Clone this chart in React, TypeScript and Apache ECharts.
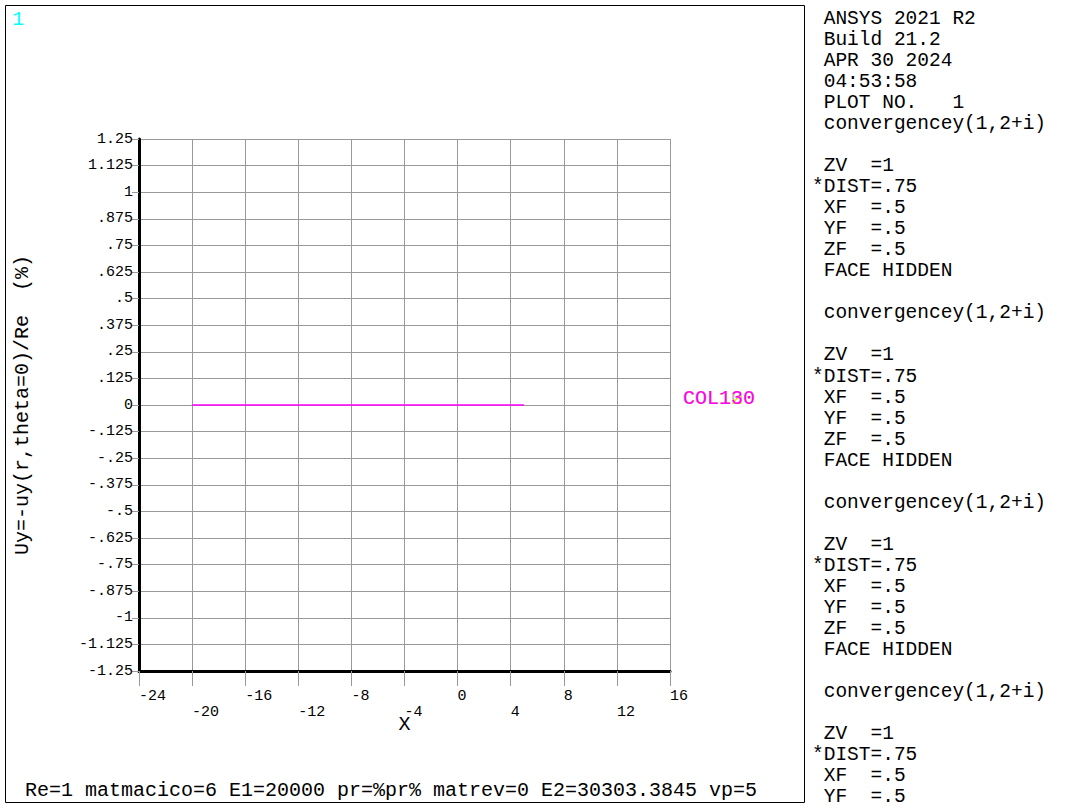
import React, { useEffect, useRef } from "react";
import * as echarts from "echarts";

// ---- data ----
const xValues = [-20, 5];
const yValues = [0, 0];
const xMin = -24, xMax = 16, xStep = 4;
const yMin = -1.25, yMax = 1.25, yStep = 0.125;
const legendLabels = ["COL100", "COL120", "COL130"];
const legendColors = ["#b4b4b4", "#e6e600", "#ff00ff"];
const headerLines = ["ANSYS 2021 R2", "Build 21.2", "APR 30 2024", "04:53:58", "PLOT NO.   1"];
const blockLines = ["convergencey(1,2+i)", "", " ZV  =1", "*DIST=.75", " XF  =.5", " YF  =.5", " ZF  =.5", " FACE HIDDEN", ""];
const footer = "Re=1 matmacico=6 E1=20000 pr=%pr% matrev=0 E2=30303.3845 vp=5";
const yName = "Uy=-uy(r,theta=0)/Re  (%)";
const xName = "X";

const FONT = "'Liberation Mono', 'DejaVu Sans Mono', monospace";

function fmtY(v: number): string {
  if (Math.abs(v) < 1e-9) return "0";
  let s = String(Math.round(v * 1000) / 1000);
  s = s.replace(/^(-?)0\./, "$1.");
  return s;
}

export default function App() {
  const ref = useRef<HTMLDivElement>(null);
  useEffect(() => {
    if (!ref.current) return;
    const chart = echarts.init(ref.current, undefined, { renderer: "svg" });
    const panel: string[] = [];
    headerLines.forEach((l) => panel.push(" " + l));
    for (let b = 0; b < 4; b++) blockLines.forEach((l) => panel.push(l.startsWith("*") || l.startsWith(" ") || l === "" ? l : " " + l));
    const visible = panel.slice(0, 38);

    const legendGraphics = legendLabels.map((t, i) => ({
      type: "text",
      x: 683,
      y: 398,
      z: 10 + i,
      style: { text: t, fill: legendColors[i], font: `20px ${FONT}`, verticalAlign: "middle", align: "left" },
    }));

    chart.setOption({
      animation: false,
      backgroundColor: "#ffffff",
      grid: { left: 139, top: 139, width: 531, height: 532, containLabel: false },
      xAxis: {
        type: "value",
        min: xMin,
        max: xMax,
        interval: xStep,
        name: xName,
        nameLocation: "middle",
        nameGap: 43,
        nameMoveOverlap: false,
        nameTextStyle: { fontFamily: FONT, fontSize: 20, color: "#000", verticalAlign: "top" },
        axisLine: { show: true, onZero: false, lineStyle: { color: "#000", width: 3 } },
        axisTick: { show: true, length: 15, lineStyle: { color: "#999", width: 1 } },
        axisLabel: {
          margin: 17,
          fontFamily: FONT,
          fontSize: 15,
          color: "#000",
          align: "left",
          lineHeight: 16,
          formatter: (v: number) => {
            const idx = Math.round((v - xMin) / xStep);
            return idx % 2 === 1 ? "\n" + String(v) : String(v);
          },
        },
        splitLine: { show: true, lineStyle: { color: "#999", width: 1 } },
      },
      yAxis: {
        type: "value",
        min: yMin,
        max: yMax,
        interval: yStep,
        name: yName,
        nameLocation: "middle",
        nameGap: 107,
        nameRotate: 90,
        nameTextStyle: { fontFamily: FONT, fontSize: 20, color: "#000" },
        axisLine: { show: true, onZero: false, lineStyle: { color: "#000", width: 3 } },
        axisTick: { show: true, length: 7, lineStyle: { color: "#999", width: 1 } },
        axisLabel: { margin: 6, fontFamily: FONT, fontSize: 15, color: "#000", formatter: fmtY },
        splitLine: { show: true, lineStyle: { color: "#999", width: 1 } },
      },
      series: [
        {
          type: "line",
          data: xValues.map((x, i) => [x, yValues[i]]),
          showSymbol: false,
          lineStyle: { color: "#ff00ff", width: 1.5 },
          z: 5,
        },
      ],
      graphic: [
        {
          type: "rect",
          shape: { x: 5.5, y: 5.5, width: 799, height: 797 },
          style: { fill: "none", stroke: "#000", lineWidth: 1 },
        },
        {
          type: "text",
          x: 18,
          y: 19.5,
          style: { text: "1", fill: "#00ffff", font: `19.5px ${FONT}`, align: "center", verticalAlign: "middle" },
        },
        {
          type: "text",
          x: 812,
          y: 8.5,
          style: { text: visible.join("\n"), fill: "#000", font: `19.5px ${FONT}`, lineHeight: 21.03, align: "left", verticalAlign: "top" },
        },
        {
          type: "text",
          x: 25,
          y: 790,
          style: { text: footer, fill: "#000", font: `20px ${FONT}`, align: "left", verticalAlign: "middle" },
        },
        ...legendGraphics,
      ],
    });
    return () => chart.dispose();
  }, []);
  return (
    <div
      ref={ref}
      style={{ position: "fixed", left: 0, top: 0, width: 1077, height: 810, background: "#fff" }}
    />
  );
}
